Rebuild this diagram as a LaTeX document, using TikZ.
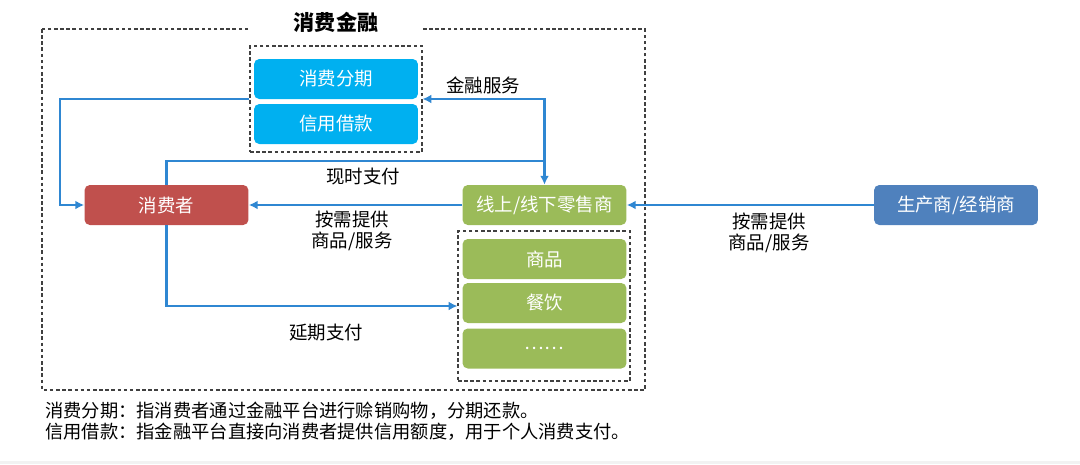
\documentclass[tikz,border=0pt]{standalone}
\usepackage{fontspec}
\setmainfont{Noto Sans CJK SC}
\usetikzlibrary{arrows.meta}
\definecolor{finblue}{HTML}{00B0F0}
\definecolor{consred}{HTML}{C0504D}
\definecolor{retgreen}{HTML}{9BBB59}
\definecolor{prodblue}{HTML}{4F81BD}
\definecolor{lineblue}{HTML}{2F87D2}
\begin{document}
\begin{tikzpicture}[
    x=0.02cm, y=-0.02cm,
    font=\fontsize{10.5pt}{12pt}\selectfont,
    box/.style={rounded corners=3pt, minimum width=3.28cm, minimum height=0.8cm, inner sep=0pt, text=white},
    grp/.style={draw=black!75, line width=0.6pt, dash pattern=on 2pt off 1.5pt},
    flow/.style={draw=lineblue, line width=1.6pt, -{Latex[length=5pt,width=5pt]}},
  ]
  \useasboundingbox (0,0) rectangle (1080,464);
  \fill[black!5] (0,461) rectangle (1080,464);
  % 外框: 消费金融
  \draw[grp] (42,29) rectangle (645,390);
  \node[fill=white, minimum width=3.44cm, minimum height=0.5cm, font=\fontsize{12pt}{13pt}\selectfont\bfseries] (title) at (336,22) {消费金融};
  % 金融产品
  \node[grp, minimum width=3.44cm, minimum height=2.12cm] (fin) at (336,99) {};
  \node[box, fill=finblue] (stage) at (336,79) {消费分期};
  \node[box, fill=finblue] (loan)  at (336,124) {信用借款};
  % 主体
  \node[box, fill=consred]  (consumer) at (166.5,205) {消费者};
  \node[box, fill=retgreen] (retailer) at (544.5,205) {线上/线下零售商};
  \node[box, fill=prodblue] (producer) at (956,205) {生产商/经销商};
  % 商品与服务
  \node[grp, minimum width=3.44cm, minimum height=3.0cm] (shop) at (544,306) {};
  \node[box, fill=retgreen] (goods) at (544.5,259) {商品};
  \node[box, fill=retgreen] (food)  at (544.5,303) {餐饮};
  \node[box, fill=retgreen] (more)  at (544.5,348.5) {……};
  % 连线
  \coordinate (lcorner) at (60,99);
  \coordinate (paytop) at (544.5,161);
  \draw[flow] (fin.west) -- (lcorner) |- (consumer.west);
  \draw[flow] (consumer.north) |- (paytop) -- (retailer.north);
  \draw[flow] (paytop) |- (fin.east);
  \draw[flow] (retailer.west) -- (consumer.east);
  \draw[flow] (consumer.south) |- (shop.west);
  \draw[flow] (producer.west) -- (retailer.east);
  % 标注
  \node (l-fin)  at (483,85)  {金融服务};
  \node (l-now)  at (363,177) {现时支付};
  \node[align=center] (l-give) at (352,231) {按需提供\\商品/服务};
  \node (l-late) at (326,333) {延期支付};
  \node[align=center] (l-supply) at (769,233) {按需提供\\商品/服务};
  \node[anchor=west, align=left, inner sep=0pt, font=\fontsize{10.4pt}{12pt}\selectfont] (note) at (45,421.5)
    {消费分期：指消费者通过金融平台进行赊销购物，分期还款。\\信用借款：指金融平台直接向消费者提供信用额度，用于个人消费支付。};
\end{tikzpicture}
\end{document}
